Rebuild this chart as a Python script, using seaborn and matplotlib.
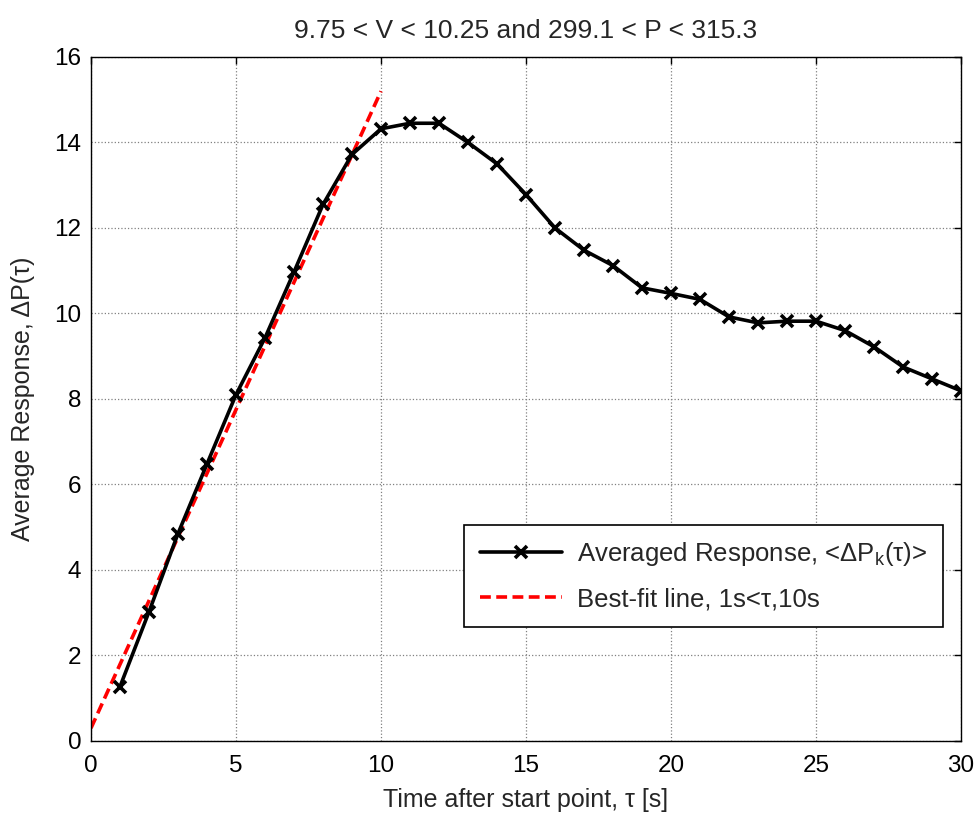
import matplotlib
matplotlib.use("Agg")
import matplotlib.pyplot as plt
import pandas as pd
import seaborn as sns

# values
tau = list(range(1, 31))
avg_response = [1.27, 3.02, 4.85, 6.48, 8.10, 9.43, 10.97, 12.55, 13.72, 14.32,
                14.45, 14.45, 14.0, 13.5, 12.78, 12.0, 11.48, 11.12, 10.6, 10.47,
                10.33, 9.92, 9.78, 9.82, 9.82, 9.6, 9.22, 8.75, 8.47, 8.19]
fit_x = [0, 10]
fit_y = [0.3, 15.2]

TITLE = "9.75 < V < 10.25 and 299.1 < P < 315.3"
XLABEL = "Time after start point, \u03c4 [s]"
YLABEL = "Average Response, \u0394P(\u03c4)"
LABEL_AVG = "Averaged Response, <\u0394P$_{k}$(\u03c4)>"
LABEL_FIT = "Best-fit line, 1s<\u03c4,10s"

sns.set_style("white")
plt.rcParams['font.family'] = ['Liberation Sans', 'DejaVu Sans']
plt.rcParams['mathtext.fontset'] = 'custom'
plt.rcParams['mathtext.rm'] = 'Liberation Sans'
plt.rcParams['mathtext.it'] = 'Liberation Sans'

FONT_SIZE = 17.5

df = pd.DataFrame({"tau": tau, "resp": avg_response})
df_fit = pd.DataFrame({"tau": fit_x, "resp": fit_y})

fig = plt.figure(figsize=(9.74, 8.13), dpi=100)
ax = fig.add_axes([0.0934, 0.0886, 0.8933, 0.8413])

sns.lineplot(x="tau", y="resp", data=df, color="black", linewidth=2.6,
             marker="x", markersize=8.5, markeredgewidth=2.6, markeredgecolor="black",
             label=LABEL_AVG, ax=ax, zorder=3)
sns.lineplot(x="tau", y="resp", data=df_fit, color="red", linewidth=2.6,
             label=LABEL_FIT, ax=ax, zorder=2)
ax.lines[-1].set_linestyle((0, (3, 1.5)))

ax.set_xlim(0, 30)
ax.set_ylim(0, 16)
ax.set_xticks(range(0, 31, 5))
ax.set_yticks(range(0, 17, 2))
ax.grid(True, color="#808080", linestyle=":", linewidth=0.9)
ax.tick_params(direction="in", length=5, width=1, top=True, right=True,
               labelsize=FONT_SIZE, colors="black")
ax.tick_params(axis="x", pad=10)
ax.tick_params(axis="y", pad=7)
for s in ax.spines.values():
    s.set_color("black")
    s.set_linewidth(1)

ax.set_xlabel(XLABEL, fontsize=FONT_SIZE + 0.5, labelpad=8)
ax.set_ylabel(YLABEL, fontsize=FONT_SIZE + 0.5, labelpad=14)
ax.set_title(TITLE, fontsize=FONT_SIZE + 1.5, pad=14)

leg = ax.legend(loc="lower right", bbox_to_anchor=(0.979, 0.167), borderaxespad=0,
                fontsize=FONT_SIZE + 1, frameon=True, fancybox=False, edgecolor="black",
                framealpha=1, handlelength=3.2, borderpad=0.6, labelspacing=0.75,
                handletextpad=0.6)
leg.get_frame().set_linewidth(1.2)

plt.savefig("out.png", dpi=100)
